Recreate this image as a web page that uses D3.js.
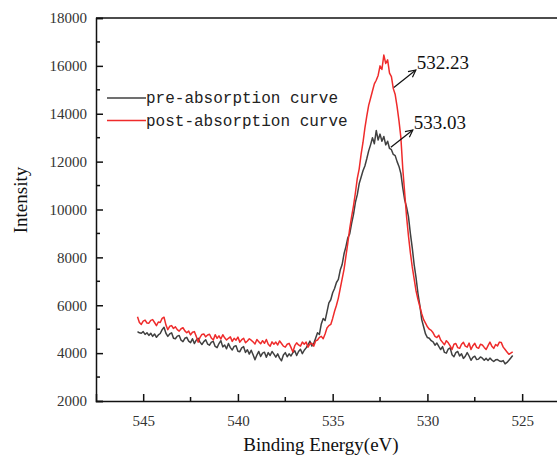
<!DOCTYPE html>
<html>
<head>
<meta charset="utf-8">
<script src="https://cdn.jsdelivr.net/npm/d3@7"></script>
<style>
  body { margin: 0; background: #fff; }
  svg { display: block; }
</style>
</head>
<body>
<div id="chart"></div>
<script>
// binding energy grid (eV), 0.1 eV steps
var energy = [
  545.3, 545.2, 545.1, 545.0, 544.9, 544.8, 544.7, 544.6, 544.5, 544.4,
  544.3, 544.2, 544.1, 544.0, 543.9, 543.8, 543.7, 543.6, 543.5, 543.4,
  543.3, 543.2, 543.1, 543.0, 542.9, 542.8, 542.7, 542.6, 542.5, 542.4,
  542.3, 542.2, 542.1, 542.0, 541.9, 541.8, 541.7, 541.6, 541.5, 541.4,
  541.3, 541.2, 541.1, 541.0, 540.9, 540.8, 540.7, 540.6, 540.5, 540.4,
  540.3, 540.2, 540.1, 540.0, 539.9, 539.8, 539.7, 539.6, 539.5, 539.4,
  539.3, 539.2, 539.1, 539.0, 538.9, 538.8, 538.7, 538.6, 538.5, 538.4,
  538.3, 538.2, 538.1, 538.0, 537.9, 537.8, 537.7, 537.6, 537.5, 537.4,
  537.3, 537.2, 537.1, 537.0, 536.9, 536.8, 536.7, 536.6, 536.5, 536.4,
  536.3, 536.2, 536.1, 536.0, 535.9, 535.8, 535.7, 535.6, 535.5, 535.4,
  535.3, 535.2, 535.1, 535.0, 534.9, 534.8, 534.7, 534.6, 534.5, 534.4,
  534.3, 534.2, 534.1, 534.0, 533.9, 533.8, 533.7, 533.6, 533.5, 533.4,
  533.3, 533.2, 533.1, 533.0, 532.9, 532.8, 532.7, 532.6, 532.5, 532.4,
  532.3, 532.2, 532.1, 532.0, 531.9, 531.8, 531.7, 531.6, 531.5, 531.4,
  531.3, 531.2, 531.1, 531.0, 530.9, 530.8, 530.7, 530.6, 530.5, 530.4,
  530.3, 530.2, 530.1, 530.0, 529.9, 529.8, 529.7, 529.6, 529.5, 529.4,
  529.3, 529.2, 529.1, 529.0, 528.9, 528.8, 528.7, 528.6, 528.5, 528.4,
  528.3, 528.2, 528.1, 528.0, 527.9, 527.8, 527.7, 527.6, 527.5, 527.4,
  527.3, 527.2, 527.1, 527.0, 526.9, 526.8, 526.7, 526.6, 526.5, 526.4,
  526.3, 526.2, 526.1, 526.0, 525.9, 525.8, 525.7, 525.6, 525.5
];

var preAbsorption = [
  4900, 4850, 4830, 4900, 4780, 4850, 4740, 4830, 4700, 4800,
  4660, 4760, 4820, 4980, 5080, 4830, 4700, 4800, 4850, 4620,
  4600, 4710, 4740, 4540, 4480, 4620, 4660, 4500, 4440, 4600,
  4400, 4540, 4620, 4460, 4360, 4480, 4560, 4380, 4330, 4460,
  4490, 4280, 4230, 4400, 4520, 4260, 4340, 4180, 4400, 4230,
  4130, 4280, 4310, 4080, 4060, 4220, 4270, 4030, 4140, 3960,
  4120, 3930, 3720, 3920, 4070, 3860, 4000, 4040, 3830, 4020,
  3900, 4070, 3960, 3830, 3970, 3790, 3680, 3920, 4020, 3850,
  3970, 3880, 4020, 4100, 3900, 4070, 4160, 3980, 4120, 4220,
  4350, 4500, 4300, 4400, 4620, 4850, 4780, 5220, 5450, 5360,
  5720, 6100, 6230, 6520, 6700, 6950, 7080, 7470, 7700, 8150,
  8450, 8820, 8980, 9420, 9800, 10300, 10620, 11080, 11350, 11620,
  11820, 12120, 12450, 12700, 13000, 12750, 13300, 12900, 13150, 12850,
  13050, 12700, 12850, 12550, 12500, 12300, 12250, 12000, 11800, 11500,
  10900, 10400, 10100, 9700, 9000, 8400, 7700, 7150, 6500, 6000,
  5400, 5100, 4800, 4650, 4620, 4520, 4470, 4330, 4420, 4280,
  4150, 4270, 4030, 4000, 4170, 4220, 3930, 3850, 4020, 4070,
  3880, 3970, 3780, 3870, 4020, 3880, 3700, 3820, 3870, 3730,
  3750, 3840, 3790, 3700, 3780, 3690, 3790, 3710, 3650, 3720,
  3730, 3670, 3650, 3690, 3550, 3610, 3700, 3800, 3900
];

var postAbsorption = [
  5520, 5280, 5200, 5340, 5380, 5260, 5250, 5370, 5400, 5280,
  5150, 5300, 5280, 5450, 5500, 5180, 4980, 5120, 5150, 5030,
  5100, 4980, 4920, 5020, 5060, 4930, 4850, 4920, 4760, 4870,
  4900, 4700, 4460, 4660, 4780, 4800, 4680, 4760, 4790, 4630,
  4550, 4770, 4620, 4720, 4590, 4770, 4640, 4550, 4620, 4680,
  4490, 4620, 4540, 4670, 4460, 4560, 4620, 4430, 4510, 4600,
  4540, 4470, 4380, 4570, 4480, 4390, 4520, 4410, 4570, 4370,
  4290, 4470, 4370, 4460, 4340, 4510, 4400, 4290, 4250, 4370,
  4410, 4240, 4050, 4310, 4430, 4340, 4290, 4460, 4370, 4460,
  4250, 4390, 4410, 4290, 4510, 4550, 4660, 4700, 4600, 4800,
  5050, 5150, 5200, 5450, 5750, 6000, 6300, 6700, 7100, 7500,
  8050, 8600, 9200, 9700, 10150, 10700, 11300, 11700, 12300, 12800,
  13400, 13900, 14350, 14650, 14950, 15250, 15400, 15600, 16000, 15850,
  16450, 16100, 16250, 15700, 15550, 15050, 14800, 14300, 13700, 13000,
  11700, 10700, 9700, 8900, 8200, 7600, 7100, 6600, 6250, 5950,
  5650, 5400, 5250, 5100, 5000, 4950, 4850, 4700, 4650, 4750,
  4550, 4450, 4350, 4520, 4430, 4300, 4150, 4370, 4400, 4230,
  4200, 4370, 4450, 4290, 4250, 4420, 4150, 4310, 4410, 4240,
  4200, 4370, 4340, 4240, 4150, 4310, 4460, 4290, 4200, 4360,
  4300, 4460, 4440, 4250, 4150, 4050, 3950, 4000, 4050
];

var seriesNames = ["pre-absorption curve", "post-absorption curve"];
var seriesColors = ["#404040", "#ef2b2b"];

var xTicks = [545, 540, 535, 530, 525];
var xMinor = [542.5, 537.5, 532.5, 527.5];
var yTicks = [2000, 4000, 6000, 8000, 10000, 12000, 14000, 16000, 18000];
var yMinor = [3000, 5000, 7000, 9000, 11000, 13000, 15000, 17000];

// peak annotations: label, arrow tail [eV, counts], arrow head [eV, counts]
var peakLabels = ["532.23", "533.03"];
var arrowTails = [[531.77, 15100], [531.93, 12600]];
var arrowHeads = [[530.61, 15830], [530.77, 13320]];

var W = 557, H = 457;
var margin = { left: 96, top: 18, right: -4, bottom: 56 };

var svg = d3.select("#chart").append("svg")
  .attr("width", W)
  .attr("height", H);

var x = d3.scaleLinear()
  .domain([547.49, 522.95])
  .range([margin.left, W - margin.right]);

var y = d3.scaleLinear()
  .domain([2000, 18000])
  .range([H - margin.bottom, margin.top]);

var serif = "'Liberation Serif', 'Times New Roman', serif";

// <---- frame: top line and the two axes ---->
svg.append("line")
  .attr("x1", x.range()[0]).attr("x2", x.range()[1])
  .attr("y1", y(18000)).attr("y2", y(18000))
  .attr("stroke", "#111").attr("stroke-width", 1.5);

var xAxis = svg.append("g")
  .attr("transform", "translate(0," + y(2000) + ")")
  .call(d3.axisBottom(x).tickValues(xTicks).tickSize(-7).tickPadding(14).tickFormat(d3.format("d")));

// minor x ticks
svg.append("g").selectAll("line")
  .data(xMinor)
  .enter().append("line")
  .attr("x1", function(d) { return x(d); })
  .attr("x2", function(d) { return x(d); })
  .attr("y1", y(2000))
  .attr("y2", y(2000) - 4)
  .attr("stroke", "#111").attr("stroke-width", 1.5);

var yAxis = svg.append("g")
  .attr("transform", "translate(" + x.range()[0] + ",0)")
  .call(d3.axisLeft(y).tickValues(yTicks).tickSize(-7).tickPadding(9).tickFormat(d3.format("d")));

// minor y ticks
svg.append("g").selectAll("line")
  .data(yMinor)
  .enter().append("line")
  .attr("x1", x.range()[0])
  .attr("x2", x.range()[0] + 4)
  .attr("y1", function(d) { return y(d); })
  .attr("y2", function(d) { return y(d); })
  .attr("stroke", "#111").attr("stroke-width", 1.5);

[xAxis, yAxis].forEach(function(g) {
  g.attr("font-family", serif).attr("font-size", 15);
  g.select(".domain").attr("stroke", "#111").attr("stroke-width", 1.5);
  g.selectAll(".tick line").attr("stroke", "#111").attr("stroke-width", 1.5);
  g.selectAll(".tick text")
    .attr("fill", "#333")
    .style("font-family", serif)
    .style("font-size", "15px");
});

// <---- axis titles ---->
svg.append("text")
  .attr("x", 321)
  .attr("y", 451)
  .attr("text-anchor", "middle")
  .style("font-family", serif)
  .style("font-size", "19px")
  .attr("fill", "#111")
  .text("Binding Energy(eV)");

svg.append("text")
  .attr("transform", "translate(27,200) rotate(-90)")
  .attr("text-anchor", "middle")
  .style("font-family", serif)
  .style("font-size", "19px")
  .attr("fill", "#111")
  .text("Intensity");

// <---- the two spectra ---->
var line = d3.line()
  .x(function(d) { return x(d[0]); })
  .y(function(d) { return y(d[1]); });

var series = [preAbsorption, postAbsorption];

svg.append("g").selectAll("path")
  .data(series)
  .enter().append("path")
  .attr("fill", "none")
  .attr("stroke", function(d, i) { return seriesColors[i]; })
  .attr("stroke-width", 1.5)
  .attr("stroke-linejoin", "round")
  .attr("d", function(d) {
    return line(d.map(function(v, i) { return [energy[i], v]; }));
  });

// <---- legend ---->
var legend = svg.append("g").attr("transform", "translate(107,98)");
seriesNames.forEach(function(name, i) {
  var row = legend.append("g").attr("transform", "translate(0," + i * 22.5 + ")");
  row.append("line")
    .attr("x1", 0).attr("x2", 39)
    .attr("stroke", seriesColors[i])
    .attr("stroke-width", 1.3);
  row.append("text")
    .attr("x", 39)
    .attr("y", 5)
    .style("font-family", "'Liberation Mono', 'DejaVu Sans Mono', monospace")
    .style("font-size", "16px")
    .attr("fill", "#222")
    .text(name);
});

// <---- peak arrows ---->
svg.append("defs").append("marker")
  .attr("id", "arrow")
  .attr("viewBox", "0 0 10 10")
  .attr("refX", 9).attr("refY", 5)
  .attr("markerWidth", 9).attr("markerHeight", 9)
  .attr("markerUnits", "userSpaceOnUse")
  .attr("orient", "auto")
  .append("path")
  .attr("d", "M1,1 L9,5 L1,9")
  .attr("fill", "none")
  .attr("stroke", "#111")
  .attr("stroke-width", 1.3);

peakLabels.forEach(function(lbl, i) {
  svg.append("line")
    .attr("x1", x(arrowTails[i][0])).attr("y1", y(arrowTails[i][1]))
    .attr("x2", x(arrowHeads[i][0])).attr("y2", y(arrowHeads[i][1]))
    .attr("stroke", "#111")
    .attr("stroke-width", 1.2)
    .attr("marker-end", "url(#arrow)");
  svg.append("text")
    .attr("x", x(arrowHeads[i][0]) + 1)
    .attr("y", y(arrowHeads[i][1]) - 1)
    .style("font-family", serif)
    .style("font-size", "19px")
    .attr("fill", "#111")
    .text(lbl);
});
</script>
</body>
</html>
